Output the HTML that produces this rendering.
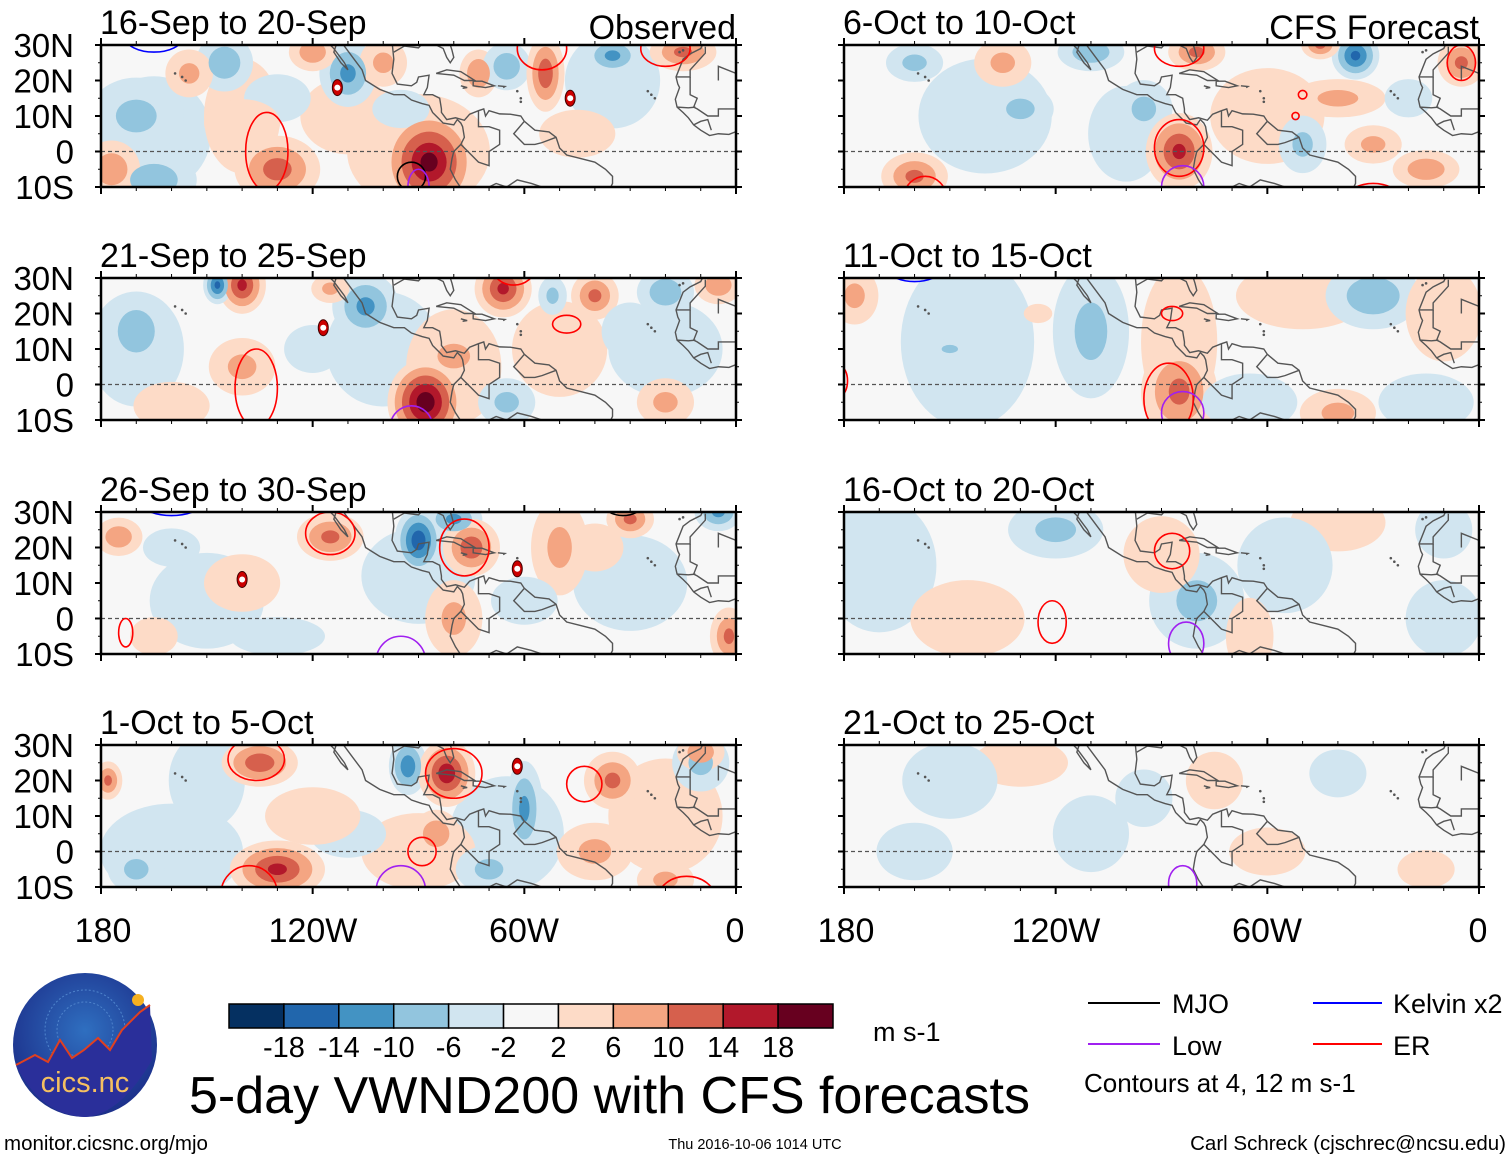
<!DOCTYPE html>
<html><head><meta charset="utf-8">
<style>
html,body{margin:0;padding:0;background:#fff;}
svg{display:block;font-family:"Liberation Sans",sans-serif;}
</style></head>
<body>
<svg id="fig" width="1510" height="1159" viewBox="0 0 1510 1159" xmlns="http://www.w3.org/2000/svg">
<defs>
<radialGradient id="logoGrad" cx="50%" cy="40%" r="60%">
<stop offset="0%" stop-color="#2f6fc0"/><stop offset="100%" stop-color="#1c2f8a"/>
</radialGradient>
</defs>
<g id="panels"></g>

<g font-size="34" text-anchor="middle" fill="#000">
<text x="103" y="942">180</text><text x="313" y="942">120W</text><text x="524" y="942">60W</text><text x="735" y="942">0</text>
</g>
<g font-size="34" text-anchor="middle" fill="#000">
<text x="846" y="942">180</text><text x="1056" y="942">120W</text><text x="1267" y="942">60W</text><text x="1478" y="942">0</text>
</g>

<g>
<ellipse cx="85" cy="1045" rx="72" ry="72" fill="url(#logoGrad)"/>
<circle cx="85" cy="1030" r="40" fill="none" stroke="#4f84cc" stroke-width="1" stroke-dasharray="2 2"/>
<circle cx="85" cy="1030" r="28" fill="none" stroke="#4f84cc" stroke-width="1" stroke-dasharray="2 2"/>
<path d="M16,1065 L35,1055 48,1062 60,1040 72,1058 84,1050 98,1038 110,1050 122,1030 140,1012 150,1005 L152,1060 Q120,1115 85,1117 Q40,1115 16,1065Z" fill="#2a2f9a"/>
<polyline points="16,1065 35,1055 48,1062 60,1040 72,1058 84,1050 98,1038 110,1050 122,1030 140,1012 150,1005" fill="none" stroke="#e04020" stroke-width="2"/>
<circle cx="138" cy="1000" r="6" fill="#f5b020"/>
<text x="85" y="1092" font-size="29" fill="#f5c060" text-anchor="middle">cics.nc</text>
</g>

<g id="colorbar"></g>
<text x="873" y="1041" font-size="27">m s-1</text>
<text x="189" y="1113" font-size="52">5-day VWND200 with CFS forecasts</text>

<g font-size="27">
<g><line x1="1088" y1="1003" x2="1160" y2="1003" stroke="#000" stroke-width="2"/><text x="1172" y="1013">MJO</text></g>
<g><line x1="1313" y1="1003" x2="1382" y2="1003" stroke="#0000ff" stroke-width="2"/><text x="1393" y="1013">Kelvin x2</text></g>
<g><line x1="1088" y1="1044" x2="1160" y2="1044" stroke="#a020f0" stroke-width="2"/><text x="1172" y="1055">Low</text></g>
<g><line x1="1313" y1="1044" x2="1382" y2="1044" stroke="#ff0000" stroke-width="2"/><text x="1393" y="1055">ER</text></g>
<text x="1084" y="1092" font-size="26">Contours at 4, 12 m s-1</text>
</g>
<text x="4" y="1150" font-size="20.5">monitor.cicsnc.org/mjo</text>
<text x="755" y="1149" font-size="14.5" text-anchor="middle">Thu 2016-10-06 1014 UTC</text>
<text x="1506" y="1150" font-size="20.5" text-anchor="end">Carl Schreck (cjschrec@ncsu.edu)</text>
</svg>
<script>
// ---- data ----
const panelTitles = ["16-Sep to 20-Sep","21-Sep to 25-Sep","26-Sep to 30-Sep","1-Oct to 5-Oct","6-Oct to 10-Oct","11-Oct to 15-Oct","16-Oct to 20-Oct","21-Oct to 25-Oct"];
const colorbarLabels = ["-18","-14","-10","-6","-2","2","6","10","14","18"];
const latLabels = ["30N","20N","10N","0","10S"];
const latValues = [30,20,10,0,-10];
const lonLabels = [-180,-120,-60,0];
// blobs: [lon, lat, rxDeg, ryDeg, peak m/s]
const blobs1 = [[-165,5,12,12,-4],[-90,0,15,12,4],[-140,10,8,12,4],[-35,20,10,10,-3],[-110,10,10,8,3],[-165,-8,9,6,-8],[-170,10,10,8,-6],[-177,-5,6,6,8],[-130,-5,9,7,11],[-87,-3,10,11,18],[-145,25,6,6,-8],[-110,22,6,7,-10],[-120,28,5,4,8],[-100,25,5,5,6],[-73,22,4,5,9],[-65,24,5,5,-8],[-54,22,4,8,12],[-35,27,6,4,-10],[-15,28,7,4,10],[-130,15,7,5,-4],[-155,22,5,5,6],[-95,12,6,4,-4],[-45,5,8,5,4],[-140,8,8,5,4]];
const blobs2 = [[-100,10,12,12,-4],[-80,5,10,12,4],[-170,10,10,12,-4],[-50,10,10,10,3],[-20,10,12,10,-4],[-140,28,5,6,14],[-147,28,3,4,-14],[-105,22,7,7,-10],[-66,27,6,6,14],[-40,25,5,5,10],[-52,25,3,4,-6],[-170,15,7,8,-8],[-88,-5,8,9,20],[-30,15,6,6,-4],[-65,-5,6,5,-6],[-140,5,7,6,6],[-80,8,8,6,6],[-20,-5,6,5,6],[-120,10,6,5,-4],[-20,26,6,5,-8],[-5,28,5,4,8],[-160,-6,8,5,4],[-115,27,4,3,6]];
const blobs3 = [[-90,12,12,10,-4],[-150,5,12,10,-3],[-80,0,6,8,6],[-30,10,12,10,-4],[-50,20,6,10,6],[-175,23,5,4,8],[-160,20,6,4,-4],[-115,23,7,5,10],[-90,22,5,7,-16],[-80,28,6,4,-10],[-75,20,6,6,12],[-30,28,5,4,10],[-5,30,5,4,-10],[-2,-5,4,6,10],[-140,10,8,6,4],[-60,5,7,5,-4],[-130,-5,10,4,-3],[-40,20,6,5,4],[-165,-5,5,4,4]];
const blobs4 = [[-160,0,15,10,-4],[-65,5,12,12,-4],[-20,10,12,12,4],[-10,25,6,6,-6],[-90,0,12,8,4],[-150,20,8,10,-3],[-178,20,3,4,10],[-130,-5,10,6,14],[-135,25,8,5,12],[-93,24,4,6,-12],[-82,22,6,7,16],[-60,12,4,10,-10],[-70,-5,7,5,-6],[-35,20,6,6,10],[-10,28,5,4,8],[-85,5,5,5,8],[-170,-5,6,5,-6],[-20,-8,6,4,6],[-110,5,8,5,-4],[-120,10,10,6,3],[-40,0,8,6,6]];
const blobs5 = [[-140,10,14,12,-3],[-60,10,12,10,4],[-100,5,8,10,-3],[-35,27,5,5,-14],[-45,30,4,3,10],[-5,25,5,5,10],[-80,28,6,4,10],[-110,28,7,4,-8],[-160,25,6,4,-6],[-135,25,6,5,6],[-130,12,7,5,-6],[-95,12,6,6,-6],[-85,0,7,8,14],[-160,-7,7,5,10],[-50,2,5,6,-6],[-40,15,10,4,6],[-15,-5,7,4,8],[-30,2,6,4,6],[-20,15,5,4,-4]];
const blobs6 = [[-145,12,14,18,-4],[-110,15,8,14,-6],[-85,12,8,16,4],[-85,-2,8,10,10],[-50,25,14,7,4],[-30,25,10,7,-8],[-10,20,8,10,4],[-15,-5,10,6,-3],[-65,-5,10,6,-3],[-40,-8,8,5,6],[-177,25,5,6,6],[-150,10,4,2,-6],[-125,20,3,2,3]];
const blobs7 = [[-170,15,12,14,-4],[-120,25,10,6,-6],[-145,0,12,8,4],[-80,5,10,10,-6],[-90,18,8,8,4],[-40,27,10,6,4],[-55,15,10,10,-3],[-10,0,8,8,-3],[-65,-5,5,8,3],[-10,25,6,6,-3]];
const blobs8 = [[-95,15,6,6,-4],[-130,25,10,5,4],[-40,22,6,5,-4],[-60,0,8,5,4],[-15,-5,6,4,3],[-160,0,8,6,-3],[-150,20,10,8,-3],[-110,5,8,8,-3],[-75,20,6,6,3]];
// contours: [lon, lat, rxDeg, ryDeg, type]
const contours1 = [[-133,0,6,11,"er"],[-55,29,7,6,"er"],[-20,29,7,5,"er"],[-165,32,8,4,"kelvin"],[-92,-7,4,4,"mjo"],[-90,-10,3,5,"low"]];
const contours2 = [[-136,-1,6,11,"er"],[-63,33,6,5,"er"],[-48,17,4,2.5,"er"],[-92,-12,6,6,"low"],[-15,33,8,3,"er"]];
const contours3 = [[-115,24,7,6,"er"],[-77,20,7,8,"er"],[-173,-4,2,4,"er"],[-95,-12,7,7,"low"],[-32,33,6,4,"mjo"],[-160,32,8,3,"kelvin"]];
const contours4 = [[-138,-12,8,8,"er"],[-136,26,8,6,"er"],[-80,22,8,7,"er"],[-89,0,4,4,"er"],[-43,19,5,5,"er"],[-14,-13,8,6,"er"],[-95,-11,7,7,"low"]];
const contours5 = [[-85,1,7,8,"er"],[-84,-10,6,6,"low"],[-157,-13,6,6,"er"],[-85,29,7,5,"er"],[-5,25,4,5,"er"],[-50,16,1.2,1.2,"er"],[-52,10,1,1,"er"],[-30,-14,8,5,"er"]];
const contours6 = [[-88,-4,7,10,"er"],[-84,-8,6,6,"low"],[-87,20,3,2,"er"],[-160,32,7,3,"kelvin"],[-181,1,2,4,"er"]];
const contours7 = [[-87,19,5,5,"er"],[-121,-1,4,6,"er"],[-83,-7,5,6,"low"]];
const contours8 = [[-84,-9,4,5,"low"]];
const allBlobs = [blobs1,blobs2,blobs3,blobs4,blobs5,blobs6,blobs7,blobs8];
const allContours = [contours1,contours2,contours3,contours4,contours5,contours6,contours7,contours8];
const storms = [[[-113,18,"P"],[-47,15,"L"]],[[-117,16,"R"]],[[-140,11,"U"],[-62,14,"M"]],[[-62,24,"N"]],[],[],[],[]];

// ---- drawing ----
const NS = "http://www.w3.org/2000/svg";
const posColors = ["#fddbc7","#f4a582","#d6604d","#b2182b","#67001f"];
const negColors = ["#d1e5f0","#92c5de","#4393c3","#2166ac","#053061"];
const barColors = ["#053061","#2166ac","#4393c3","#92c5de","#d1e5f0","#f7f7f7","#fddbc7","#f4a582","#d6604d","#b2182b","#67001f"];
const levels = [2,6,10,14,18];
const cColors = {er:"#ff0000",mjo:"#000000",low:"#a020f0",kelvin:"#0000ff"};
const PW = 635, PH = 142, GROW = 1.35;
const lefts = [101,844];
const tops = [45,278,512,745];
function el(tag, attrs, parent){const e=document.createElementNS(NS,tag);for(const k in attrs)e.setAttribute(k,attrs[k]);if(parent)parent.appendChild(e);return e;}
const xS = lon => (lon+180)/180*PW;
const yS = lat => (30-lat)/40*PH;
const coasts = [
 [[-117,32],[-114,29],[-111,25],[-110,23],[-112,25],[-114,28],[-113,31]],
 [[-112,31],[-109,27],[-106,23],[-105,20],[-101,17.5],[-97,16],[-94,16],[-92,14.5],[-89,13.5],[-87,13],[-86,11],[-85,10],[-84,9],[-83,8],[-80,7.5],[-79,9],[-78,8],[-77.5,7],[-77,4],[-78,2],[-80,0],[-80.5,-2],[-81,-5],[-79.5,-8],[-77.5,-11]],
 [[-97.5,31],[-97,26],[-97.5,22],[-96,19],[-92,18.5],[-90.5,19.5],[-90,21],[-87,21.5],[-87.5,18],[-88.5,16],[-86,16],[-84,15],[-83.5,12],[-83.5,11],[-82,9],[-79.5,9.5],[-77,8.8],[-75.5,10.5],[-73,11.5],[-71.5,12],[-71,10],[-70,11.5],[-67,10.6],[-64,10.5],[-61,10],[-60,8.5],[-57,6],[-53,5.5],[-51,4],[-50,1],[-48,-1],[-44,-2],[-40,-3],[-37,-5],[-35,-7],[-35,-9],[-36,-11]],
 [[-97,28],[-94,29.7],[-90,29.2],[-89,30.3],[-85,30],[-83,29],[-82,26.5],[-81,25],[-80,26.5],[-80.5,28.5],[-81.3,31]],
 [[-85,22],[-82,23],[-78,22.5],[-74,20],[-77,20],[-80,21.5],[-85,22]],
 [[-74.5,19.8],[-72,19.8],[-68.5,18.5],[-71,18],[-74.5,18.5],[-74.5,19.8]],
 [[-67.5,18.5],[-65.5,18.3],[-66,18]],
 [[-78,18.5],[-76.2,18],[-77.5,17.8]],
 [[-9,31],[-10,29],[-13,27.5],[-15,26],[-17,21],[-16.5,19],[-16,18],[-17.2,14.7],[-16.7,12.5],[-15,11],[-13.5,9.5],[-12,7.5],[-10,6],[-7.5,4.5],[-5,5],[-2,4.8],[1,6]],
 [[-17,21],[-13,21],[-13,23],[-8.7,27.7],[-8.7,29.5]],
 [[-13,21],[-13,16],[-11,15],[-12,12.5],[-11,12],[-8,10],[-5,10],[-5,12],[0,12],[1,15]],
 [[-16.7,12.5],[-13.5,12.3],[-11.5,12.5]],
 [[-12,7.5],[-10,8.5],[-8,9],[-7,6]],
 [[-5,20],[-5,24],[0,22]],
 [[-70,-10],[-68,-9],[-65,-10],[-62,-8],[-58,-9],[-55,-10]],
 [[-60,8.5],[-63,5],[-60,2],[-57,2],[-55,2.5],[-51,4]],
 [[-73,11.5],[-73,7],[-70,7],[-67,6],[-67,2],[-70,0],[-70,-4],[-73,-3],[-75,-1],[-78,2]]
];
const islands=[[-157,21],[-156,20],[-159,22],[-24,16],[-23,15],[-25,17],[-61,14],[-61,15],[-62,17],[-16,28],[-15,28.5],[-17.5,32.7]];

const root = document.getElementById("panels");
for(let p=0;p<8;p++){
  const col = p<4?0:1, row = p%4;
  const ox = lefts[col], oy = tops[row];
  const g = el("g",{transform:`translate(${ox},${oy})`},root);
  
  
  const cp = el("clipPath",{id:"clip"+p},g);
  el("rect",{x:0,y:0,width:PW,height:PH},cp);
  const bg = el("rect",{x:0,y:0,width:PW,height:PH,fill:"#f7f7f7"},g);
  
  
  const field = el("g",{"clip-path":`url(#clip${p})`},g);
  
  
  const bl = allBlobs[p];
  for(let li=0;li<levels.length;li++){
    const L = levels[li];
    bl.forEach(b=>{
      const v=b[4], a=Math.abs(v);
      if(a<L) return;
      const s = GROW*Math.max(0.18, 1-(L-2)/(a+1));
      const e = el("ellipse",{cx:xS(b[0]),cy:yS(b[1]),rx:b[2]*s*PW/180,ry:b[3]*s*PH/40,fill:(v>0?posColors:negColors)[li]},field);
      
      
    });
  }
  const cg = el("g",{"clip-path":`url(#clip${p})`,fill:"none",stroke:"#555","stroke-width":1.4},g);
  
  
  coasts.forEach(c=>{el("polyline",{points:c.map(q=>xS(q[0])+","+yS(q[1])).join(" ")},cg);});
  islands.forEach(q=>{el("circle",{cx:xS(q[0]),cy:yS(q[1]),r:1.3,fill:"#555",stroke:"none"},cg);});
  const eq = el("line",{x1:0,x2:PW,y1:yS(0),y2:yS(0),stroke:"#555","stroke-width":1.2,"stroke-dasharray":"4 3"},g);
  
  
  const kg = el("g",{"clip-path":`url(#clip${p})`,fill:"none","stroke-width":1.6},g);
  
  
  allContours[p].forEach(c=>{
    const e=el("ellipse",{cx:xS(c[0]),cy:yS(c[1]),rx:c[2]*PW/180,ry:c[3]*PH/40,stroke:cColors[c[4]]},kg);
    
    
  });
  storms[p].forEach(s=>{
    const sg=el("g",{transform:`translate(${xS(s[0])},${yS(s[1])})`},g);
    
    
    el("ellipse",{cx:0,cy:0,rx:5,ry:8,fill:"#cc0000",stroke:"#400","stroke-width":1},sg);
    el("circle",{cx:0,cy:0,r:3,fill:"#fff"},sg);
  });
  const fr = el("rect",{x:0,y:0,width:PW,height:PH,fill:"none",stroke:"#000","stroke-width":2.5},g);
  
  
  const tg = el("g",{stroke:"#000"},g);
  
  
  for(let lon=-180;lon<=0;lon+=10){
    const major = lonLabels.includes(lon), x=xS(lon), len=major?7:4;
    el("line",{x1:x,x2:x,y1:0,y2:-len,"stroke-width":major?2:1},tg);
    el("line",{x1:x,x2:x,y1:PH,y2:PH+len,"stroke-width":major?2:1},tg);
  }
  latValues.forEach(lat=>{
    const y=yS(lat);
    el("line",{x1:0,x2:-6,y1:y,y2:y,"stroke-width":2},tg);
    el("line",{x1:PW,x2:PW+6,y1:y,y2:y,"stroke-width":2},tg);
  });
  for(let lat=-5;lat<30;lat+=10){const y=yS(lat);el("line",{x1:0,x2:-3,y1:y,y2:y},tg);el("line",{x1:PW,x2:PW+3,y1:y,y2:y},tg);}
  if(col===0){
    latValues.forEach((lat,i)=>{
      const t=el("text",{x:-27,y:yS(lat)+12,"font-size":33,"text-anchor":"end"},g);
      t.textContent=latLabels[i];
      
      
    });
  }
  const tt=el("text",{x:-1,y:-11,"font-size":34},g);
  tt.textContent=panelTitles[p];
  
  
  if(row===0){
    const rt=el("text",{x:PW,y:-6,"font-size":34,"text-anchor":"end"},g);
    rt.textContent = col===0?"Observed":"CFS Forecast";
    
    
  }
}
const cb = document.getElementById("colorbar");
const cbX=229, cbY=1004, cbW=604, cbH=24, bw=cbW/barColors.length;
barColors.forEach((c,i)=>{
  const r=el("rect",{x:cbX+i*bw,y:cbY,width:bw,height:cbH,fill:c,stroke:"#000","stroke-width":1.5},cb);
  
  
});
colorbarLabels.forEach((l,i)=>{
  const t=el("text",{x:cbX+(i+1)*bw,y:1057,"font-size":29,"text-anchor":"middle"},cb);
  t.textContent=l;
  
  
});
</script>
</body></html>
